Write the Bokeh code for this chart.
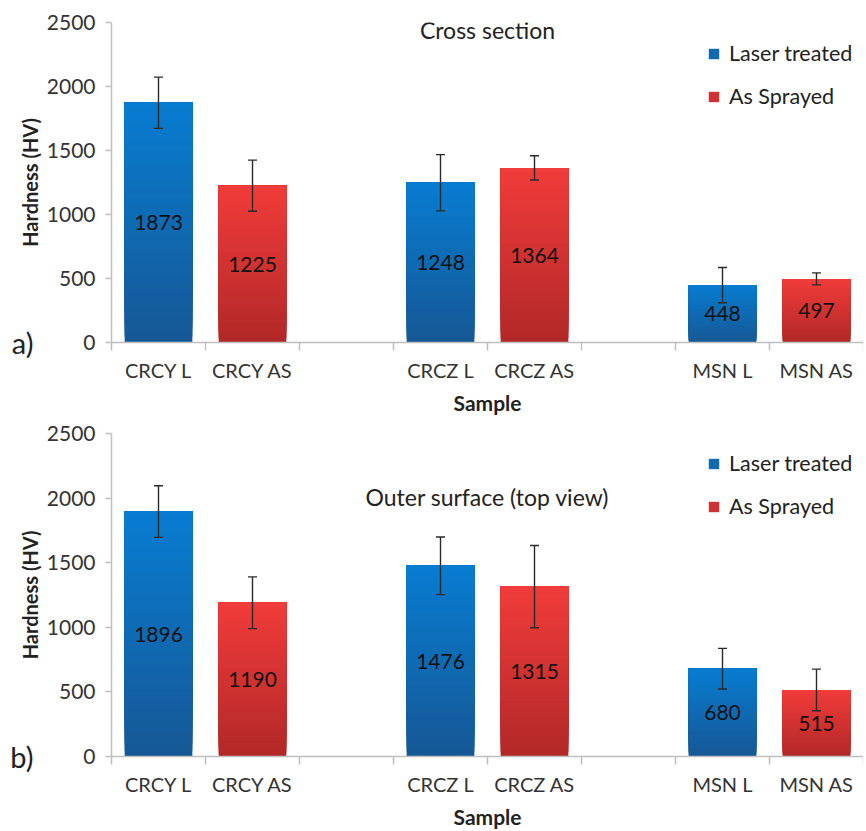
from bokeh.plotting import figure
from bokeh.models import (Range1d, FixedTicker, Label, Legend, LegendItem, LinearAxis)
from bokeh.layouts import column
from bokeh.embed import file_html
from bokeh.resources import INLINE
from bokeh.core.properties import value

# ---- data ----
samples = ["CRCY L", "CRCY AS", "CRCZ L", "CRCZ AS", "MSN L", "MSN AS"]
slots = [0.5, 1.5, 3.5, 4.5, 6.5, 7.5]
treatment = ["Laser treated", "As Sprayed", "Laser treated", "As Sprayed",
             "Laser treated", "As Sprayed"]
cross_hv = [1873, 1225, 1248, 1364, 448, 497]
cross_err = [200, 200, 220, 95, 138, 47]
outer_hv = [1896, 1190, 1476, 1315, 680, 515]
outer_err = [200, 200, 223, 318, 157, 161]
y_ticks = [0, 500, 1000, 1500, 2000, 2500]

FONT = "Lato"
COLORS = {
    "Laser treated": ((22, 88, 150), (8, 124, 208)),
    "As Sprayed": ((178, 40, 40), (240, 60, 58)),
}
ERR_COLOR = "#2a2a2a"


def blend(c0, c1, t):
    return "#%02x%02x%02x" % tuple(int(round(a + (b - a) * t)) for a, b in zip(c0, c1))


def panel(vals, errs, title, title_y, letter, frame_h, top_b, bot_b, leg_top):
    p = figure(frame_width=752, frame_height=frame_h, min_border_left=111,
               min_border_right=0, min_border_top=top_b, min_border_bottom=bot_b,
               x_range=Range1d(0, 8), y_range=Range1d(0, 2500),
               output_backend="svg", toolbar_location=None)
    p.outline_line_color = None
    p.xgrid.visible = False
    p.ygrid.visible = False
    p.background_fill_color = "white"

    # gradient bars: overlapping layers, lighter towards the top
    N = 40
    for i in range(N):
        t = i / (N - 1)
        bottoms = [v * i / N for v in vals]
        cols = [blend(COLORS[tr][0], COLORS[tr][1], t) for tr in treatment]
        p.vbar(x=slots, bottom=bottoms, top=vals, width=0.72,
               fill_color=cols, line_color=None)

    # error bars
    upper = [v + e for v, e in zip(vals, errs)]
    lower = [v - e for v, e in zip(vals, errs)]
    p.segment(x0=slots, y0=lower, x1=slots, y1=upper,
              line_color=ERR_COLOR, line_width=1.4)
    p.scatter(x=slots + slots, y=upper + lower, marker="dash", size=9,
              line_color=ERR_COLOR, line_width=1.4)

    # value labels
    p.text(x=slots, y=[v / 2 for v in vals], text=[str(v) for v in vals],
           text_align="center", text_baseline="middle",
           text_font=value(FONT), text_font_size="21px", text_color="#111111")

    # legend (proxy renderers placed outside the visible range)
    rl = p.vbar(x=[-5], top=[1], width=0.5,
                fill_color=blend(*COLORS["Laser treated"], 0.5), line_color=None)
    ra = p.vbar(x=[-5], top=[1], width=0.5,
                fill_color=blend(*COLORS["As Sprayed"], 0.5), line_color=None)
    leg_h = 2 * 20 + 17 + 2 * 8
    leg = Legend(items=[LegendItem(label="Laser treated", renderers=[rl]),
                        LegendItem(label="As Sprayed", renderers=[ra])],
                 location=(596, frame_h - leg_top - leg_h), border_line_color=None,
                 background_fill_alpha=0, glyph_width=13, glyph_height=13,
                 label_height=20, spacing=17, padding=8, label_standoff=9,
                 label_text_font=FONT, label_text_font_size="21.5px",
                 label_text_color="#222222", margin=0)
    p.add_layout(leg)

    p.add_layout(Label(x=4, y=title_y, text=title, text_align="center",
                       text_baseline="middle", text_font=FONT,
                       text_font_size="23px", text_color="#222222"))

    # x axis
    xa = p.xaxis[0]
    xa.ticker = FixedTicker(ticks=slots, minor_ticks=list(range(9)))
    xa.major_label_overrides = {s: n for s, n in zip(slots, samples)}
    xa.major_tick_line_color = None
    xa.major_tick_out = 0
    xa.major_tick_in = 0
    xa.minor_tick_line_color = "#bfbfbf"
    xa.minor_tick_line_width = 1.5
    xa.minor_tick_out = 8
    xa.minor_tick_in = 0
    xa.axis_line_color = "#bfbfbf"
    xa.axis_line_width = 1.5
    xa.major_label_standoff = 7
    xa.major_label_text_font = FONT
    xa.major_label_text_font_size = "20px"
    xa.major_label_text_color = "#333333"
    xa.axis_label = "Sample"
    xa.axis_label_text_font = FONT
    xa.axis_label_text_font_style = "bold"
    xa.axis_label_text_font_size = "21px"
    xa.axis_label_text_color = "#222222"
    xa.axis_label_standoff = 5

    # y axis
    ya = p.yaxis[0]
    ya.ticker = FixedTicker(ticks=y_ticks, minor_ticks=[])
    ya.major_tick_out = 6
    ya.major_tick_in = 0
    ya.major_tick_line_color = "#bfbfbf"
    ya.major_tick_line_width = 1.5
    ya.axis_line_color = "#bfbfbf"
    ya.axis_line_width = 1.5
    ya.major_label_standoff = 10
    ya.major_label_text_font = FONT
    ya.major_label_text_font_size = "21px"
    ya.major_label_text_color = "#333333"
    ya.axis_label = "Hardness (HV)"
    ya.axis_label_text_font = FONT
    ya.axis_label_text_font_style = "bold"
    ya.axis_label_text_font_size = "20px"
    ya.axis_label_text_color = "#222222"
    ya.axis_label_standoff = 2

    # panel letter: an outer left axis with a single labelled tick at y = 0
    la = LinearAxis(ticker=FixedTicker(ticks=[0], minor_ticks=[]),
                    major_label_overrides={0: letter})
    la.axis_line_color = None
    la.major_tick_line_color = None
    la.minor_tick_line_color = None
    la.major_tick_out = 0
    la.major_tick_in = 0
    la.major_label_standoff = -19
    la.major_label_text_font = FONT
    la.major_label_text_font_size = "29px"
    la.major_label_text_color = "#222222"
    p.add_layout(la, "left")
    return p


p1 = panel(cross_hv, cross_err, "Cross section", 2445, "a)", 320, 22, 75, 14)
p2 = panel(outer_hv, outer_err, "Outer surface (top view)", 2012, "b)", 323, 16, 75, 13)

layout = column(p1, p2, spacing=0)
open("out.html", "w").write(file_html(layout, INLINE))
